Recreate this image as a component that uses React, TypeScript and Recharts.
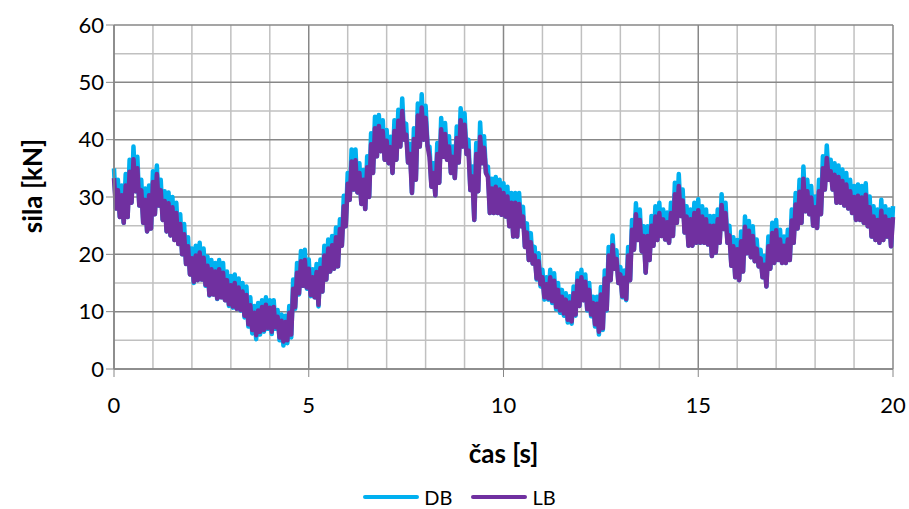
import { LineChart, Line, XAxis, YAxis, CartesianGrid, Label } from 'recharts';

// force readings, one value per 0.1 s (0 .. 20 s); band top and band bottom
const DB_TOP = [
  35, 33, 32, 34, 36.5, 38.8, 37, 33, 31.5, 32,
  34.5, 35.5, 33, 31, 30.8, 30, 29, 27, 25.3, 23,
  21, 21.5, 22, 21, 19.6, 19, 18.5, 19, 18.5, 17,
  16.2, 16.5, 15.8, 15, 14.4, 12.5, 11, 11.5, 12, 12.5,
  12, 12, 10.3, 9.5, 9.3, 11, 15.6, 18.5, 20.6, 20.8,
  19.1, 17.4, 18.3, 19.1, 21.5, 22.6, 23.2, 24.7, 26.1, 30.2,
  34.2, 38.3, 38.3, 35.9, 34.7, 37.1, 41.1, 44, 44.3, 43.4,
  41.7, 40.5, 43.4, 45.2, 47.2, 42.8, 39.3, 42, 46.3, 47.9,
  45.9, 38.8, 35.9, 39.4, 43.8, 42.9, 40.6, 38.8, 42.3, 45.5,
  44.6, 40, 35.3, 39.4, 43, 40.6, 35.3, 33.2, 33.5, 33,
  32.4, 31.8, 30.7, 30.7, 30.7, 28.3, 25.4, 23.7, 21.3, 20.2,
  17.3, 16, 17.3, 16.7, 15, 13.8, 13.2, 12.7, 14.4, 16.7,
  17.3, 16.5, 15, 12.6, 12.6, 14.3, 17.2, 21.3, 23.3, 20.7,
  17.8, 17.2, 21.3, 26, 28.9, 27.8, 24.9, 24.9, 26.7, 28.4,
  29, 27.8, 27.3, 29, 32.5, 34, 31.3, 28.4, 27.8, 29,
  29.6, 28.4, 27.8, 26.7, 26.7, 27.8, 30.5, 29, 25, 23,
  22.5, 24, 26.6, 25.8, 24.9, 22.6, 20.8, 19.7, 23.1, 25.5,
  26, 24.3, 23.1, 24.3, 27.8, 30.7, 33, 35.3, 33, 31.9,
  30.1, 33, 37.1, 39, 36.5, 35.9, 35.5, 34.8, 34.2, 33,
  31.9, 32.2, 31.9, 32.4, 30.1, 28.4, 27.8, 29.5, 28.4, 27.8,
  28.4,
];
const DB_BOT = [
  28, 26.5, 25.5, 26.5, 29, 31, 28.5, 25.5, 24, 24.5,
  27, 28.5, 26, 24, 23.3, 22.5, 21.8, 20, 18.3, 16.5,
  15, 15.5, 15.6, 14.5, 12.8, 13, 12.2, 12.5, 12, 11,
  10.7, 10.5, 10.2, 9, 7.4, 6.2, 5.2, 6, 6.5, 7,
  6.1, 7, 5, 4.1, 4.5, 5.5, 10.5, 13, 14.5, 14,
  12.7, 12.5, 10.9, 13.5, 15.6, 17, 17.5, 17.9, 21.5, 24.9,
  29.5, 31.3, 30.8, 28.8, 27.9, 30, 34.2, 37.1, 38, 36.5,
  35.9, 34.2, 36.5, 38.8, 40, 36, 30.7, 33, 38.8, 40,
  38.9, 31.8, 30.3, 32.5, 37, 36.5, 34.2, 33.3, 36, 38.8,
  37.5, 31.2, 26, 31, 35.9, 34.2, 27.2, 27.2, 27.2, 26.9,
  26.6, 24.9, 23.1, 23.1, 24.9, 21.3, 19, 18.4, 15.6, 14.4,
  12.1, 12.1, 11.5, 10.4, 9.8, 9.3, 8.1, 7.9, 9.3, 11,
  12, 10.2, 9.2, 7.4, 6, 6.8, 10.2, 15.5, 17.5, 15,
  12.5, 12, 15.5, 20.8, 22.5, 20.5, 16.8, 19, 21.5, 22.5,
  23.2, 22.6, 22, 23.2, 25.5, 26.7, 23.8, 21.5, 21.5, 22,
  22, 22, 21.7, 19.7, 20.3, 22, 24.4, 22, 18, 16,
  15.5, 17, 20.2, 19.5, 18.8, 17.9, 16, 14.4, 17.5, 18.5,
  19, 18.5, 18.5, 19, 22, 24.5, 25.5, 27.5, 27, 25,
  24.6, 27, 31.3, 33, 31.3, 29, 29, 28.5, 28, 27.2,
  26, 26, 25.5, 24.9, 23.1, 22.5, 22, 22.5, 23.1, 21.4,
  22,
];
const LB_TOP = [
  33.3, 31.2, 30.3, 32, 34.4, 36.6, 35, 31.2, 29.5, 30.3,
  32.6, 34, 31.2, 29.3, 28.9, 28.2, 27.2, 25.3, 23.5, 21.4,
  19.3, 19.8, 20.3, 19.4, 18, 17.4, 17, 17.4, 16.8, 15.5,
  14.6, 15, 14.2, 13.5, 12.9, 11.1, 9.8, 10.2, 10.8, 11.2,
  10.7, 10.8, 9.1, 8.4, 8.2, 9.8, 14, 16.8, 18.8, 19,
  17.5, 16, 16.9, 17.6, 19.8, 21, 21.6, 23, 24.4, 28.4,
  32.3, 36.2, 36.4, 34.2, 33, 35.2, 39.2, 42, 42.4, 41.5,
  39.8, 38.7, 41.5, 43.3, 45, 40.9, 37.5, 40.1, 44.2, 45.6,
  43.8, 37, 34.2, 37.5, 41.8, 41, 38.8, 37, 40.3, 43.4,
  42.6, 38.1, 33.6, 37.5, 40.5, 38.6, 33.5, 31.5, 31.8, 31.3,
  30.7, 30.1, 29, 29, 28.8, 26.6, 23.8, 22.1, 19.8, 18.8,
  16, 14.8, 16, 15.4, 13.8, 12.6, 12.1, 11.6, 13.2, 15.4,
  16, 15.2, 13.8, 11.5, 11.4, 13, 15.8, 19.8, 21.6, 19.2,
  16.5, 15.9, 19.8, 24.3, 27, 26, 23.2, 23.2, 25, 26.6,
  27.2, 26.1, 25.6, 27.2, 30.5, 31.9, 29.4, 26.6, 26.1, 27.2,
  27.7, 26.6, 26.1, 25, 25, 26.1, 28.6, 27.2, 23.3, 21.4,
  20.9, 22.3, 24.8, 24.1, 23.2, 21, 19.3, 18.2, 21.4, 23.7,
  24.2, 22.6, 21.5, 22.6, 25.9, 28.7, 30.9, 33.2, 31, 29.9,
  28.2, 31, 35, 36.8, 34.5, 33.9, 33.5, 32.8, 32.2, 31,
  30, 30.2, 29.9, 30.4, 28.2, 26.6, 26, 27.6, 26.6, 26,
  26.5,
];
const LB_BOT = [
  28, 26.5, 25.5, 26.5, 29, 31, 28.5, 25.5, 24, 24.5,
  27, 28.5, 26, 24, 23.3, 22.5, 21.8, 20, 18.3, 16.5,
  15.2, 15.5, 15.6, 14.7, 12.9, 13, 12.3, 12.5, 12, 11.3,
  10.9, 10.5, 10.3, 9.3, 7.8, 6.8, 5.9, 6.5, 6.8, 7.2,
  6.5, 7.3, 5.5, 4.8, 5, 6, 10.8, 13.2, 14.5, 14.2,
  12.9, 12.5, 11.2, 13.5, 15.6, 17, 17.5, 17.9, 21.5, 24.9,
  29.5, 31.3, 30.8, 28.8, 27.9, 30, 34.2, 37.1, 38, 36.5,
  35.9, 34.2, 36.5, 38.8, 40, 36, 30.7, 33, 38.8, 40,
  38.9, 31.8, 30.3, 32.5, 37, 36.5, 34.2, 33.3, 36, 38.8,
  37.5, 31.2, 26, 31, 35.9, 34.2, 27.2, 27.2, 27.2, 26.9,
  26.6, 24.9, 23.1, 23.1, 24.9, 21.3, 19, 18.4, 15.8, 14.8,
  12.5, 12.3, 11.8, 10.8, 10.2, 9.7, 8.6, 8.3, 9.5, 11,
  12, 10.4, 9.5, 7.8, 6.5, 7.1, 10.4, 15.5, 17.5, 15,
  12.7, 12.2, 15.5, 20.8, 22.5, 20.5, 16.8, 19, 21.5, 22.5,
  23.2, 22.6, 22, 23.2, 25.5, 26.7, 23.8, 21.5, 21.5, 22,
  22, 22, 21.7, 19.7, 20.3, 22, 24.4, 22, 18, 16,
  15.5, 17, 20.2, 19.5, 18.8, 17.9, 16, 14.4, 17.5, 18.5,
  19, 18.5, 18.5, 19, 22, 24.5, 25.5, 27.5, 27, 25,
  24.6, 27, 31.3, 33, 31.3, 29, 29, 28.5, 28, 27.2,
  26, 26, 25.5, 24.9, 23.1, 22.5, 22, 22.5, 23.1, 21.4,
  22,
];

const X_TICKS = [0, 5, 10, 15, 20];
const Y_TICKS = [0, 10, 20, 30, 40, 50, 60];
const X_MINOR = [1, 2, 3, 4, 6, 7, 8, 9, 11, 12, 13, 14, 16, 17, 18, 19];
const Y_MINOR = [5, 15, 25, 35, 45, 55];

const C_DB = '#00b0f0';
const C_LB = '#7030a0';
const FONT = 'Lato, "DejaVu Sans", sans-serif';

// top at each sample, bottom half a step later -> filled noisy band
const data: { t: number; db: number; lb: number }[] = [];
DB_TOP.forEach((v, i) => {
  data.push({ t: i / 10, db: v, lb: LB_TOP[i] });
  if (i < DB_TOP.length - 1) data.push({ t: i / 10 + 0.05, db: DB_BOT[i], lb: LB_BOT[i] });
});

const tick = { fill: '#000', fontSize: 22, fontFamily: FONT };
const titleStyle = { fontFamily: FONT, fontSize: 26, fontWeight: 700, fill: '#000' };

function LegendItem({ color, label }: { color: string; label: string }) {
  return (
    <div style={{ display: 'flex', alignItems: 'center', gap: 4 }}>
      <svg width={58} height={8}><line x1={3} y1={4} x2={55} y2={4} stroke={color} strokeWidth={4} strokeLinecap="round" /></svg>
      <span>{label}</span>
    </div>
  );
}

export default function App() {
  return (
    <div style={{ position: 'fixed', left: 0, top: 0, width: 909, height: 509, background: '#fff' }}>
      <LineChart width={909} height={509} data={data} margin={{ top: 25, right: 16, left: 0, bottom: 40 }}>
        <CartesianGrid stroke="#c0c0c0" strokeWidth={1.5} verticalValues={X_MINOR} horizontalValues={Y_MINOR} />
        <CartesianGrid stroke="#878787" strokeWidth={1.5} verticalValues={X_TICKS} horizontalValues={Y_TICKS} />
        <XAxis dataKey="t" type="number" domain={[0, 20]} ticks={X_TICKS} height={100}
          tick={tick} tickSize={8} tickMargin={20} stroke="#878787" axisLine={{ stroke: '#878787', strokeWidth: 1.5 }}>
          <Label value="čas [s]" position="insideBottom" offset={6} style={titleStyle} />
        </XAxis>
        <YAxis type="number" domain={[0, 60]} ticks={Y_TICKS} width={114}
          tick={tick} tickSize={8} tickMargin={2} stroke="#878787" axisLine={{ stroke: '#878787', strokeWidth: 1.5 }}>
          <Label content={() => (
            <text x={32} y={186} transform="rotate(-90, 32, 186)" textAnchor="middle" dominantBaseline="central" style={titleStyle}>sila [kN]</text>
          )} />
        </YAxis>
        <Line dataKey="db" type="linear" stroke={C_DB} strokeWidth={4.5} strokeLinejoin="round" dot={false} activeDot={false} isAnimationActive={false} />
        <Line dataKey="lb" type="linear" stroke={C_LB} strokeWidth={4.5} strokeLinejoin="round" dot={false} activeDot={false} isAnimationActive={false} />
      </LineChart>
      <div style={{ position: 'absolute', top: 485, left: 0, width: 918, display: 'flex', justifyContent: 'center', gap: 18, fontFamily: FONT, fontSize: 20, color: '#000' }}>
        <LegendItem color={C_DB} label="DB" />
        <LegendItem color={C_LB} label="LB" />
      </div>
    </div>
  );
}
